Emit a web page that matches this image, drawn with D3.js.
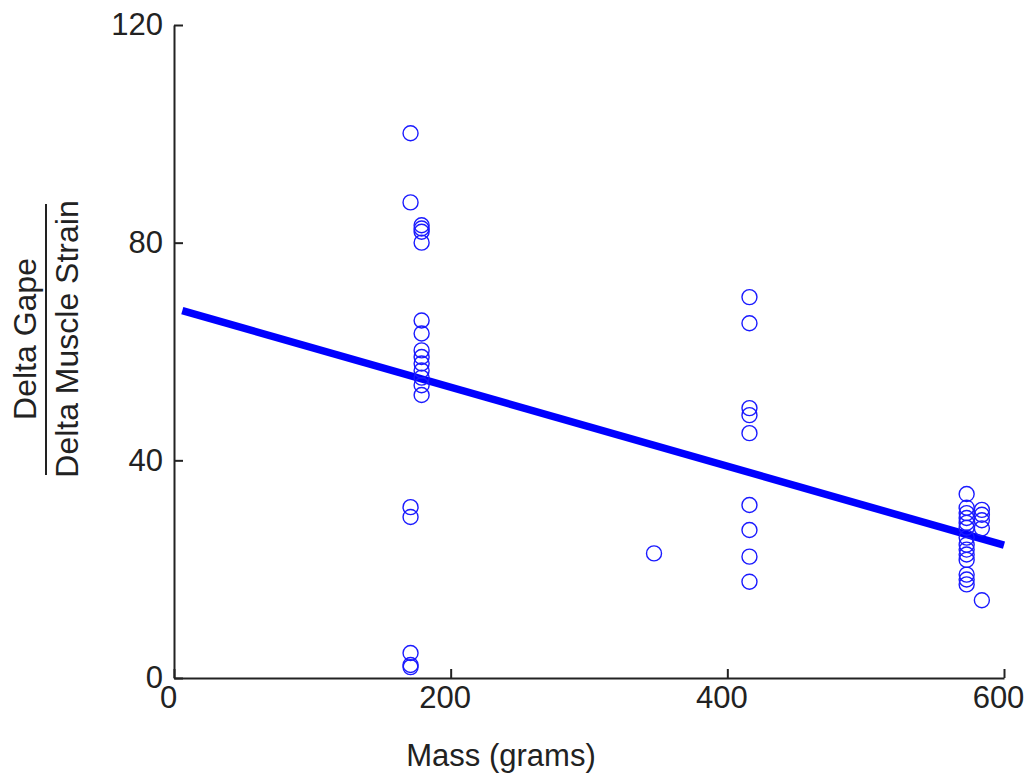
<!DOCTYPE html>
<html>
<head>
<meta charset="utf-8">
<script src="https://cdn.jsdelivr.net/npm/d3@7"></script>
<style>
  body { margin: 0; background: #fff; }
  svg text { font-family: "Liberation Sans", Arial, sans-serif; fill: #222; }
</style>
</head>
<body>
<svg id="chart" width="1028" height="776"></svg>
<script>
// mass (grams) of each trial
var massGrams = [
  171, 171, 171, 171, 171, 171, 171,
  179, 179, 179, 179, 179, 179, 179, 179, 179, 179, 179, 179, 179,
  347,
  416, 416, 416, 416, 416, 416, 416, 416, 416,
  573, 573, 573, 573, 573, 573, 573, 573, 573, 573, 573, 573, 573, 573,
  584, 584, 584, 584, 584
];
// delta gape / delta muscle strain
var gapeRatio = [
  100.1, 87.4, 31.4, 29.6, 4.6, 2.4, 2.0,
  83.2, 82.6, 82.0, 80.0, 65.7, 63.3, 60.2, 59.0, 57.8, 56.5, 55.2, 53.8, 52.0,
  22.9,
  70.0, 65.2, 49.6, 48.3, 45.0, 31.8, 27.2, 22.3, 17.7,
  33.8, 31.3, 30.3, 29.4, 28.5, 27.6, 25.8, 24.5, 23.6, 22.7, 21.7, 19.0, 18.1, 17.2,
  30.9, 30.0, 29.0, 27.5, 14.3
];
// end points of the fitted line
var fitMass = [6, 600];
var fitRatio = [67.5, 24.4];

var xTicks = [0, 200, 400, 600];
var yTicks = [0, 40, 80, 120];

var svg = d3.select("svg#chart");

var x = d3.scaleLinear().domain([0, 600]).range([174, 1004]);
var y = d3.scaleLinear().domain([0, 120]).range([678, 25]);

var points = massGrams.map(function(m, i) { return {m: m, r: gapeRatio[i]}; });

// axes, MATLAB style: ticks pointing inward
var xAxis = svg.append("g")
    .attr("transform", "translate(0," + y(0) + ")")
    .call(d3.axisBottom(x).tickValues(xTicks).tickSize(-9).tickSizeOuter(0).tickPadding(8));

var yAxis = svg.append("g")
    .attr("transform", "translate(" + x(0) + ",0)")
    .call(d3.axisLeft(y).tickValues(yTicks).tickSize(-9).tickSizeOuter(0).tickPadding(11));

[xAxis, yAxis].forEach(function(a) {
  a.selectAll("path.domain").attr("stroke", "#222").attr("stroke-width", 2);
  a.selectAll(".tick line").attr("stroke", "#222").attr("stroke-width", 2);
  a.selectAll(".tick text")
    .style("font-family", "'Liberation Sans', Arial, sans-serif")
    .style("font-size", "31px")
    .attr("fill", "#222");
});
xAxis.selectAll(".tick text").attr("dx", -6);

// fitted line
svg.append("line")
    .attr("x1", x(fitMass[0]))
    .attr("y1", y(fitRatio[0]))
    .attr("x2", x(fitMass[1]))
    .attr("y2", y(fitRatio[1]))
    .attr("stroke", "#0000ff")
    .attr("stroke-width", 7.5);

// data points
svg.append("g")
    .selectAll("circle")
    .data(points)
    .enter().append("circle")
    .attr("cx", function(d) { return x(d.m); })
    .attr("cy", function(d) { return y(d.r); })
    .attr("r", 7.5)
    .attr("fill", "none")
    .attr("stroke", "#1a1aff")
    .attr("stroke-width", 1.4);

// x label
svg.append("text")
    .attr("x", 501)
    .attr("y", 766)
    .attr("text-anchor", "middle")
    .style("font-size", "31px")
    .text("Mass (grams)");

// y label, written as a fraction
var yl = svg.append("g");
yl.append("text")
    .attr("transform", "translate(36,339) rotate(-90)")
    .attr("text-anchor", "middle")
    .style("font-size", "32px")
    .text("Delta Gape");
yl.append("line")
    .attr("x1", 46).attr("x2", 46)
    .attr("y1", 204).attr("y2", 475)
    .attr("stroke", "#222")
    .attr("stroke-width", 2);
yl.append("text")
    .attr("transform", "translate(78,339) rotate(-90)")
    .attr("text-anchor", "middle")
    .style("font-size", "32px")
    .text("Delta Muscle Strain");
</script>
</body>
</html>
